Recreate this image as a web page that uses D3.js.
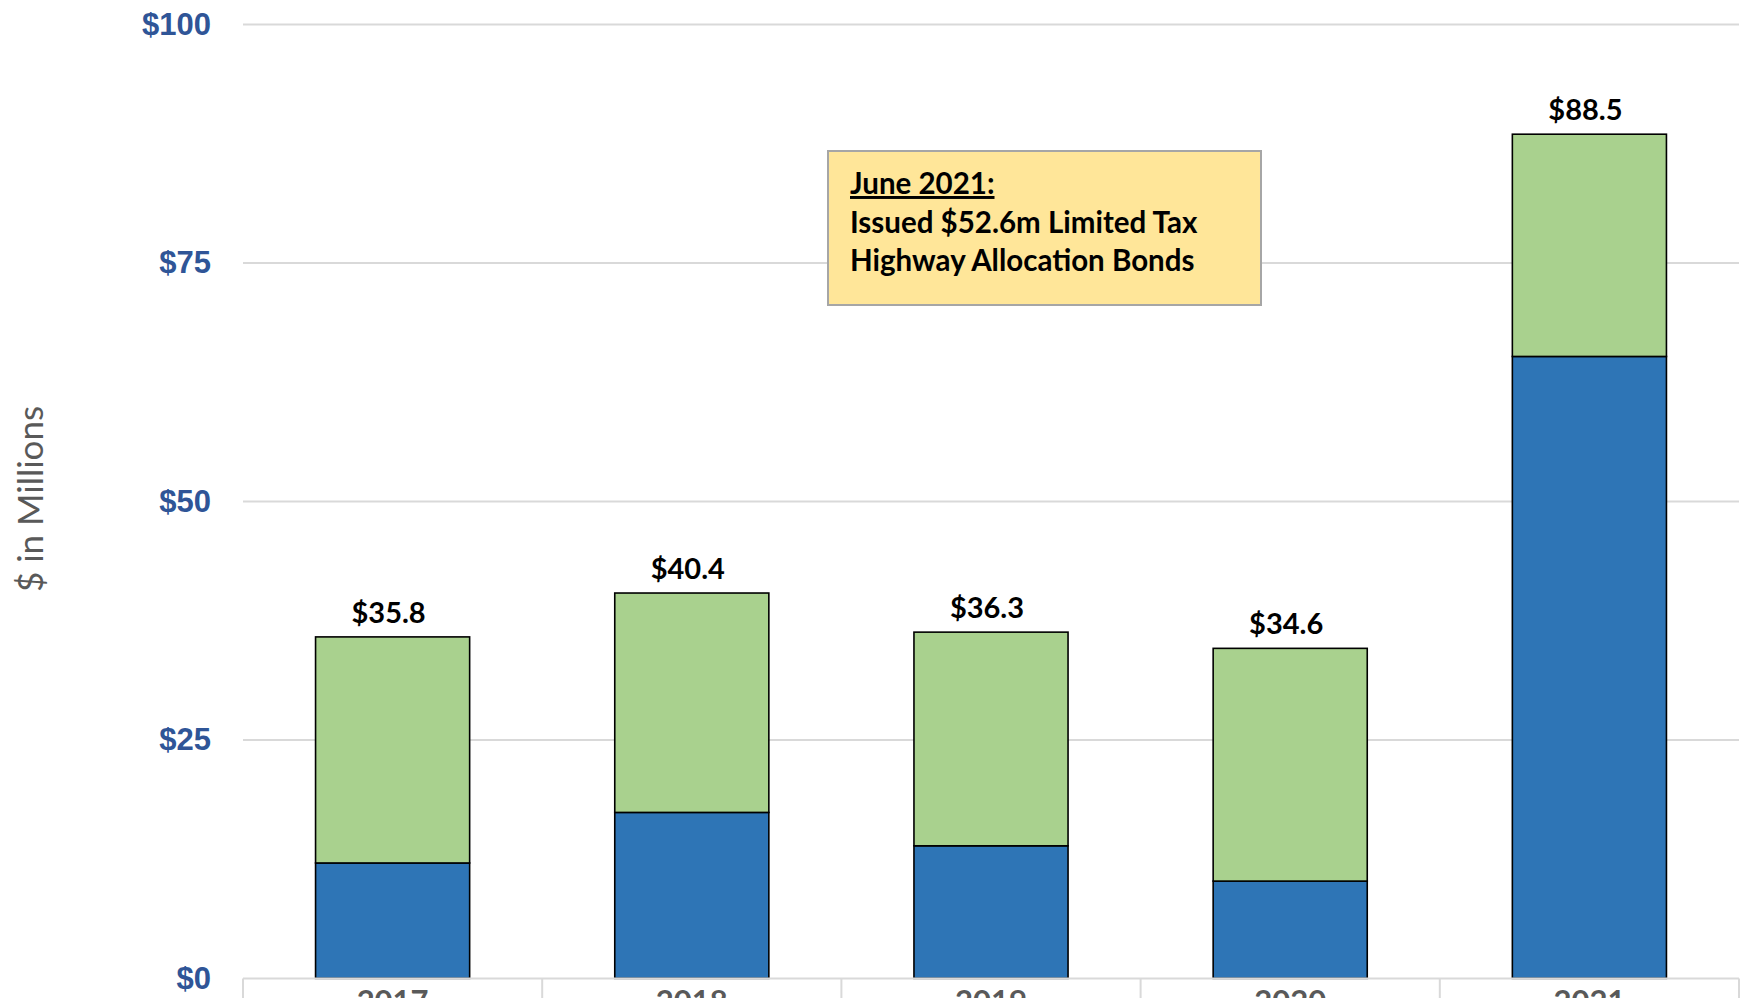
<!DOCTYPE html>
<html>
<head>
<meta charset="utf-8">
<script src="https://cdn.jsdelivr.net/npm/d3@7"></script>
<style>
  html, body { margin: 0; padding: 0; background: #fff; overflow: hidden; }
  svg { display: block; font-family: Lato, "Open Sans", sans-serif; }
</style>
</head>
<body>
<svg id="chart" width="1745" height="998"></svg>
<script>
"use strict";

// chart data
const years    = [ '2017', '2018', '2019', '2020', '2021' ];
const blueVals = [ 12.1, 17.4, 13.9, 10.2, 65.2 ];
const totals   = [ 35.8, 40.4, 36.3, 34.6, 88.5 ];
const yTicks   = [ 0, 25, 50, 75, 100 ];
const noteLines = [ 'June 2021:', 'Issued $52.6m Limited Tax', 'Highway Allocation Bonds' ];

// layout
const margin = { top: 24.5, right: 6, bottom: 19.6, left: 243 };
const width  = 1745 - margin.left - margin.right,
      height = 998 - margin.top - margin.bottom;

const colors = { blue: '#2E75B6', green: '#A9D18E' };

// build stacked rows
const rows = years.map( (y, i) => ({ year: y, blue: blueVals[i], green: +(totals[i] - blueVals[i]).toFixed(1), total: totals[i] }) );
const stacked = d3.stack().keys( [ 'blue', 'green' ] )( rows );

// scales
const x = d3.scaleBand()
  .domain( years )
  .range( [0, width] )
  .paddingInner( 0.485 )
  .paddingOuter( 0.2425 );

const y = d3.scaleLinear()
  .domain( [0, 100] )
  .range( [height, 0] );

const svg = d3.select( '#chart' )
  .append( 'g' )
    .attr( 'transform', 'translate(' + margin.left + ',' + margin.top + ')' );

// gridlines
svg.append( 'g' )
  .selectAll( 'line' )
  .data( yTicks.filter( t => t > 0 ) )
  .enter().append( 'line' )
    .attr( 'x1', 0 )
    .attr( 'x2', width )
    .attr( 'y1', d => y( d ) )
    .attr( 'y2', d => y( d ) )
    .attr( 'stroke', '#D9D9D9' )
    .attr( 'stroke-width', 2 );

// y-axis labels
const yAxis = d3.axisLeft( y )
  .tickValues( yTicks )
  .tickSize( 0 )
  .tickPadding( 32 )
  .tickFormat( d => '$' + d );

svg.append( 'g' )
    .attr( 'class', 'y axis' )
    .call( yAxis )
    .call( g => g.select( '.domain' ).remove() )
  .selectAll( 'text' )
    .attr( 'fill', '#2F5597' )
    .style( 'font-size', '31px' )
    .style( 'font-weight', 'bold' );

// bars
svg.append( 'g' )
  .selectAll( 'g' )
  .data( stacked )
  .enter().append( 'g' )
    .attr( 'fill', d => colors[ d.key ] )
  .selectAll( 'rect' )
  .data( d => d )
  .enter().append( 'rect' )
    .attr( 'x', d => x( d.data.year ) )
    .attr( 'width', x.bandwidth() )
    .attr( 'y', d => y( d[1] ) )
    .attr( 'height', d => y( d[0] ) - y( d[1] ) )
    .attr( 'stroke', '#000' )
    .attr( 'stroke-width', 1.6 );

// x-axis (category separators like Excel)
const boundaries = years.map( (yr) => x( yr ) - x.step() * x.paddingInner() / 2 ).concat( [ width ] );
const xg = svg.append( 'g' )
  .attr( 'transform', 'translate(0,' + height + ')' );

xg.append( 'line' )
  .attr( 'x1', 0 ).attr( 'x2', width )
  .attr( 'stroke', '#D9D9D9' ).attr( 'stroke-width', 2 );

xg.selectAll( '.sep' )
  .data( boundaries )
  .enter().append( 'line' )
    .attr( 'class', 'sep' )
    .attr( 'x1', d => d ).attr( 'x2', d => d )
    .attr( 'y1', 0 ).attr( 'y2', 30 )
    .attr( 'stroke', '#D9D9D9' ).attr( 'stroke-width', 2 );

// year labels sit mostly below the visible area, as in the source
xg.selectAll( '.xlab' )
  .data( years )
  .enter().append( 'text' )
    .attr( 'class', 'xlab' )
    .attr( 'x', d => x( d ) + x.bandwidth() / 2 )
    .attr( 'y', 34 )
    .attr( 'text-anchor', 'middle' )
    .attr( 'fill', '#595959' )
    .style( 'font-size', '31px' )
    .style( 'font-weight', 'bold' )
    .text( d => d );

// total labels
svg.append( 'g' )
  .selectAll( 'text' )
  .data( rows )
  .enter().append( 'text' )
    .attr( 'x', d => x( d.year ) + x.bandwidth() / 2 - 4 )
    .attr( 'y', d => y( d.total ) - 14 )
    .attr( 'text-anchor', 'middle' )
    .attr( 'fill', '#000' )
    .style( 'font-size', '29px' )
    .style( 'font-weight', 'bold' )
    .text( d => '$' + d.total.toFixed(1) );

// y-axis title
d3.select( '#chart' ).append( 'text' )
  .attr( 'transform', 'translate(43,' + 499 + ') rotate(-90)' )
  .attr( 'text-anchor', 'middle' )
  .attr( 'fill', '#595959' )
  .style( 'font-size', '35px' )
  .text( '$ in Millions' );

// annotation box
const note = d3.select( '#chart' ).append( 'g' )
  .attr( 'transform', 'translate(828,151)' );

note.append( 'rect' )
  .attr( 'width', 433 )
  .attr( 'height', 154 )
  .attr( 'fill', '#FFE699' )
  .attr( 'stroke', '#A6A6A6' )
  .attr( 'stroke-width', 2 );

note.selectAll( 'text' )
  .data( noteLines )
  .enter().append( 'text' )
    .attr( 'x', 22 )
    .attr( 'y', (d, i) => 43 + i * 38.5 )
    .attr( 'fill', '#000' )
    .style( 'font-size', '29.5px' )
    .style( 'font-weight', 'bold' )
    .style( 'text-decoration', (d, i) => i === 0 ? 'underline' : 'none' )
    .text( d => d );
</script>
</body>
</html>
